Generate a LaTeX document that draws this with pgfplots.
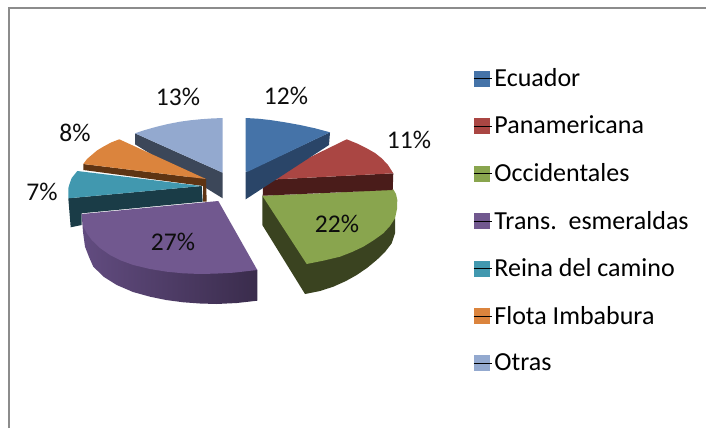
\documentclass[border=0pt]{standalone}
\usepackage{pgfplots}
\pgfplotsset{compat=1.18}
\usepackage{fontspec}
\setmainfont{Carlito}
\definecolor{cE}{HTML}{4573A8}
\definecolor{cP}{HTML}{AA4643}
\definecolor{cO}{HTML}{89A54E}
\definecolor{cT}{HTML}{71588F}
\definecolor{cR}{HTML}{4198AF}
\definecolor{cF}{HTML}{DB843D}
\definecolor{cA}{HTML}{93A9CF}
\definecolor{sE}{HTML}{2A4568}
\definecolor{sP}{HTML}{4A1C1A}
\definecolor{sO}{HTML}{3A4320}
\definecolor{sTa}{HTML}{624C80}
\definecolor{sTb}{HTML}{3A2C4C}
\definecolor{sR}{HTML}{1A3C47}
\definecolor{sF}{HTML}{5E3413}
\definecolor{sA}{HTML}{3C4759}
\definecolor{fr}{HTML}{8C8C8C}
\newcommand{\swatch}[1]{\addlegendimage{area legend,legend image code/.code={\fill[#1] (0pt,-7.5pt) rectangle (15pt,7.5pt);\path (0pt,0pt) -- (18.5pt,0pt);}}}
\begin{document}
\begin{tikzpicture}
\path (0,0) rectangle (706pt,428pt);
\begin{axis}[
  at={(0,0)},anchor=south west,
  scale only axis,width=706pt,height=428pt,
  xmin=0,xmax=706,ymin=0,ymax=428,y dir=reverse,hide axis,
  legend style={at={(axis cs:470.3,64.3)},anchor=north west,draw=none,fill=none,
    font=\fontsize{26}{30}\selectfont,row sep=24pt},
  legend cell align=left,
  every axis plot/.append style={forget plot},
]
\swatch{cE}\addlegendentry{Ecuador}
\swatch{cP}\addlegendentry{Panamericana}
\swatch{cO}\addlegendentry{Occidentales}
\swatch{cT}\addlegendentry{Trans.\ \ esmeraldas}
\swatch{cR}\addlegendentry{Reina del camino}
\swatch{cF}\addlegendentry{Flota Imbabura}
\swatch{cA}\addlegendentry{Otras}
% frame
\addplot[draw=fr,line width=2.4pt] coordinates {(8.7,428)(8.7,8)(706,8)};
% Otras
\addplot[fill=sA,draw=none] coordinates {(135,133.3)(222.7,172.7)(222.7,198.3)(135,144.3)} -- cycle;
\addplot[fill=cA,draw=none] coordinates {(135,133.3)(145,130)(156.7,126.7)(168,124)(180,121.7)(190,120.3)(200,119.3)(211,118.5)(222.7,118)(222.7,172.7)} -- cycle;
% Flota
\addplot[fill=sF,draw=none] coordinates {(83.3,164)(206,179)(206.7,201.7)(203,201.7)(203,186)(83.3,170)} -- cycle;
\addplot[fill=cF,draw=none] coordinates {(83.3,164)(87,159)(91.7,155)(97,150.5)(103.3,146.7)(111,142.5)(119.3,139.3)(206,179)} -- cycle;
% Reina
\addplot[fill=sR,draw=none] coordinates {(68.3,198.3)(201.7,186)(202.7,201.7)(81.7,213.3)(81.7,225)(70.7,227.3)} -- cycle;
\addplot[fill=cR,draw=none] coordinates {(68.3,198.3)(68.3,188.3)(69.5,184)(71.7,178)(77.3,171)(201.7,186)} -- cycle;
% Trans
\addplot[left color=sTa,right color=sTb,draw=none] coordinates {(81.7,214)(83,232)(85,246.7)(89,257)(93.3,266.7)(104,277)(116.7,285)(133,292)(150,296.7)(166,300)(183.3,302.3)(200,303.5)(216.7,304)(237,303)(257.3,300.7)(257.3,270)(200,230)} -- cycle;
\addplot[fill=cT,draw=none] coordinates {(81.7,214)(218.3,201)(230,221.7)(257.3,270)(233.3,272.7)(216,273.6)(200,274)(183,273.3)(166.7,271.7)(150,269)(133.3,265)(121,260.5)(110,255)(100,248)(91.7,240)(87,233.5)(83.3,226.7)} -- cycle;
% Occidentales
\addplot[fill=sO,draw=none] coordinates {(262.3,195.7)(262.3,225)(305,294)(320,291)(333.3,286.7)(346,281)(356.7,275)(367,268)(376.7,260)(385,252)(391.7,243.3)(395,233.3)(395,218.3)} -- cycle;
\addplot[fill=cO,draw=none] coordinates {(262.3,195.7)(333.3,192.7)(393.3,189.3)(396,194)(397.3,200)(397,209)(395,218.3)(390,226)(383.3,233.3)(374,240)(363.3,246.7)(352,252)(340,256.7)(324,260.5)(306.7,264)} -- cycle;
% Panamericana
\addplot[fill=sP,draw=none] coordinates {(263.3,180)(393.3,173.3)(392.7,190)(262.7,195.7)} -- cycle;
\addplot[fill=cP,draw=none] coordinates {(263.3,180)(346.7,139.3)(357,143.5)(366.7,148.3)(375,153)(381.7,158.3)(388,165)(393.3,173.3)} -- cycle;
% Ecuador
\addplot[fill=sE,draw=none] coordinates {(330,132.3)(329,145)(245.7,199.3)(245.7,172)} -- cycle;
\addplot[fill=cE,draw=none] coordinates {(245.7,118)(258,118.7)(270,120)(285,122.3)(300,125)(315,128.3)(330,132.3)(247.7,171.7)(245.7,171.7)} -- cycle;
% labels
\begin{scope}[every node/.style={font=\fontsize{25.5}{30}\selectfont,text=black!95}]
\node at (axis cs:286,96) {12\%};
\node at (axis cs:409,140) {11\%};
\node at (axis cs:337,224) {22\%};
\node at (axis cs:173,242) {27\%};
\node at (axis cs:42,192) {7\%};
\node at (axis cs:75,133) {8\%};
\node at (axis cs:178,97) {13\%};
\end{scope}
\end{axis}
\end{tikzpicture}
\end{document}
